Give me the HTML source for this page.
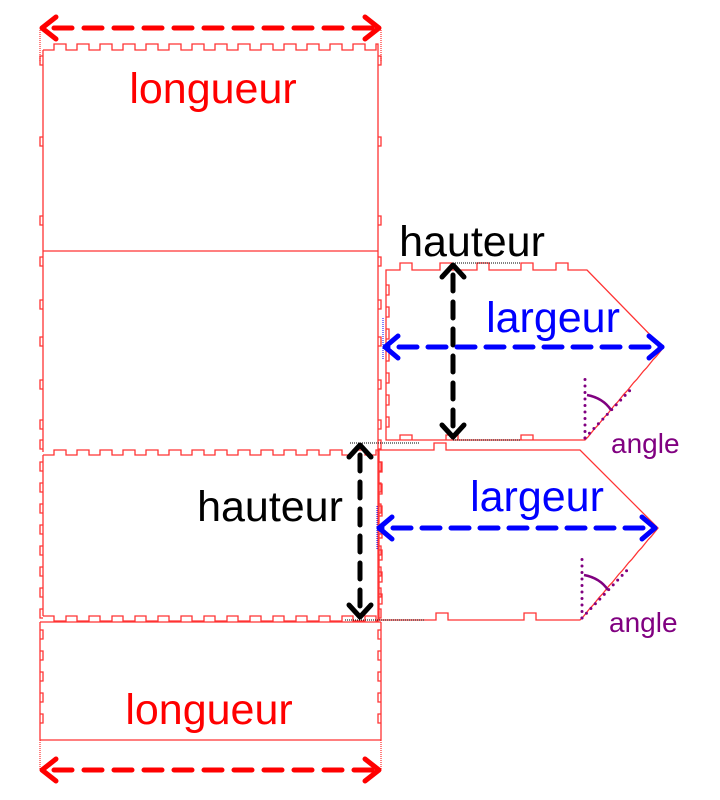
<!DOCTYPE html>
<html><head><meta charset="utf-8"><style>
html,body{margin:0;padding:0;background:#fff;width:720px;height:800px;overflow:hidden}
svg{display:block}
text{font-family:"Liberation Sans",sans-serif}
</style></head><body>
<svg id="s" width="720" height="800" viewBox="0 0 720 800" xmlns="http://www.w3.org/2000/svg">
<g id="pieces" fill="none" stroke="#ff3333" stroke-width="1.3"></g>
<g stroke-width="1" stroke-dasharray="1,1" fill="none">
<line x1="40" y1="30" x2="40" y2="62" stroke="#f00"/>
<line x1="381" y1="30" x2="381" y2="62" stroke="#f00"/>
<line x1="40" y1="740" x2="40" y2="770" stroke="#f00"/>
<line x1="381" y1="740" x2="381" y2="770" stroke="#f00"/>
<line x1="453" y1="263" x2="520" y2="263" stroke="#000"/>
<line x1="453" y1="440" x2="520" y2="440" stroke="#000"/>
<line x1="350" y1="443" x2="420" y2="443" stroke="#000"/>
<line x1="345" y1="620" x2="425" y2="620" stroke="#000"/>
<line x1="383" y1="318" x2="383" y2="360" stroke="#00f"/>
<line x1="377" y1="506" x2="377" y2="550" stroke="#00f"/>
</g>
<g stroke-linecap="round" stroke-linejoin="round" fill="none" stroke-width="5">
<g stroke="#f00">
<line x1="42" y1="28" x2="379" y2="28" stroke-dasharray="18,12" stroke-dashoffset="-12"/>
<polyline points="56,17 42,28 56,39"/><polyline points="365,17 379,28 365,39"/>
<line x1="42" y1="770" x2="379" y2="770" stroke-dasharray="18,12" stroke-dashoffset="-12"/>
<polyline points="56,759 42,770 56,781"/><polyline points="365,759 379,770 365,781"/>
</g>
<g stroke="#000">
<line x1="453" y1="265" x2="453" y2="437" stroke-dasharray="16,11" stroke-dashoffset="-10"/>
<polyline points="442,277 453,265 464,277"/><polyline points="442,425 453,437 464,425"/>
<line x1="360" y1="445" x2="360" y2="617" stroke-dasharray="16,11" stroke-dashoffset="-10"/>
<polyline points="349,457 360,445 371,457"/><polyline points="349,605 360,617 371,605"/>
</g>
<g stroke="#0000ff">
<line x1="385" y1="347" x2="662" y2="347" stroke-dasharray="18,11" stroke-dashoffset="-14"/>
<polyline points="398,336 385,347 398,358"/><polyline points="649,336 662,347 649,358"/>
<line x1="379" y1="528" x2="655" y2="528" stroke-dasharray="18,11" stroke-dashoffset="-14"/>
<polyline points="392,517 379,528 392,539"/><polyline points="642,517 655,528 642,539"/>
</g>
</g>
<g stroke="#800080" fill="none">
<line x1="585" y1="438" x2="585" y2="374" stroke-width="3" stroke-dasharray="0,6.5" stroke-linecap="round"/>
<line x1="585" y1="438" x2="634" y2="386" stroke-width="3" stroke-dasharray="0,6.5" stroke-linecap="round"/>
<path d="M587,395 Q603,398 611,410" stroke-width="2.5"/>
<line x1="582" y1="618" x2="582" y2="554" stroke-width="3" stroke-dasharray="0,6.5" stroke-linecap="round"/>
<line x1="582" y1="618" x2="631" y2="566" stroke-width="3" stroke-dasharray="0,6.5" stroke-linecap="round"/>
<path d="M584,575 Q600,578 608,590" stroke-width="2.5"/>
</g>
<text x="213" y="103" font-size="43" fill="#f00" text-anchor="middle">longueur</text>
<text x="209" y="724" font-size="43" fill="#f00" text-anchor="middle">longueur</text>
<text x="472" y="256" font-size="43" fill="#000" text-anchor="middle">hauteur</text>
<text x="270" y="521" font-size="43" fill="#000" text-anchor="middle">hauteur</text>
<text x="553" y="332" font-size="43" fill="#0000ff" text-anchor="middle">largeur</text>
<text x="537" y="511" font-size="43" fill="#0000ff" text-anchor="middle">largeur</text>
<text x="611" y="453" font-size="28" fill="#800080">angle</text>
<text x="609" y="632" font-size="28" fill="#800080">angle</text>
</svg>
<script>
(function(){
var g=document.getElementById('pieces');var NS='http://www.w3.org/2000/svg';
function P(d){var p=document.createElementNS(NS,'path');p.setAttribute('d',d);g.appendChild(p);}
function L(a,b,c,d){P('M'+a+','+b+' L'+c+','+d);}
var d='M43,50';for(var x=43;x<378;x+=23){d+=' L'+(x+11)+',50 L'+(x+11)+',44 L'+Math.min(x+23,378)+',44 L'+Math.min(x+23,378)+',50';}P(d);
function sides(y1,y2,tabs){P('M43,'+y1+' L43,'+y2);P('M378,'+y1+' L378,'+y2);
 tabs.forEach(function(t){P('M43,'+t+' L40,'+t+' L40,'+(t+9)+' L43,'+(t+9));P('M378,'+t+' L381,'+t+' L381,'+(t+9)+' L378,'+(t+9));});}
sides(50,251,[56,137,216]);
sides(251,452,[257,300,337,380,420,440]);
L(43,251,378,251);
function hn(y,dir){var d='M43,'+y;for(var x=43;x<378;x+=23){d+=' L'+(x+11)+','+y+' L'+(x+11)+','+(y+dir)+' L'+Math.min(x+23,378)+','+(y+dir)+' L'+Math.min(x+23,378)+','+y;}P(d);}
hn(455,-5);hn(616,5);
var t3=[];for(var y=462;y<612;y+=21)t3.push(y);sides(455,616,t3);
P('M40,622 L381,622');P('M40,740 L381,740');
var t4=[];for(var y=630;y<735;y+=21)t4.push(y);
P('M40,622 L40,740');P('M381,622 L381,740');
t4.forEach(function(t){P('M40,'+t+' L43,'+t+' L43,'+(t+9)+' L40,'+(t+9));P('M381,'+t+' L378,'+t+' L378,'+(t+9)+' L381,'+(t+9));});
var r='M386,275 L386,270';
var tx=[[400,412],[440,452],[477,489],[521,533],[556,568]];
tx.forEach(function(a){r+=' L'+a[0]+',270 L'+a[0]+',263 L'+a[1]+',263 L'+a[1]+',270';});
r+=' L587,270 L663,348';
var sx=663,sy=348,ex=585,ey=440,n=8;
for(var i=1;i<=n;i++){var x=sx+(ex-sx)*i/n,y=sy+(ey-sy)*i/n;r+=' L'+(x+3)+','+(y-3)+' L'+x+','+y;}
r+=' L386,440 Z';P(r);
[[400,412],[446,458],[521,533]].forEach(function(a){P('M'+a[0]+',440 L'+a[0]+',435 L'+a[1]+',435 L'+a[1]+',440');});
for(var y=285;y<435;y+=22)P('M386,'+y+' L389,'+y+' L389,'+(y+10)+' L386,'+(y+10));
var q='M379,450 L434,450 L434,443 L446,443 L446,450 L580,450 L658,528';
sx=658;sy=528;ex=580;ey=620;
for(var i=1;i<=n;i++){var x=sx+(ex-sx)*i/n,y=sy+(ey-sy)*i/n;q+=' L'+(x+3)+','+(y-3)+' L'+x+','+y;}
q+=' L536,620 L536,613 L524,613 L524,620 L448,620 L448,613 L436,613 L436,620 L379,620 Z';P(q);
for(var y=462;y<612;y+=22)P('M379,'+y+' L382,'+y+' L382,'+(y+10)+' L379,'+(y+10));
})();
</script>
</body></html>
